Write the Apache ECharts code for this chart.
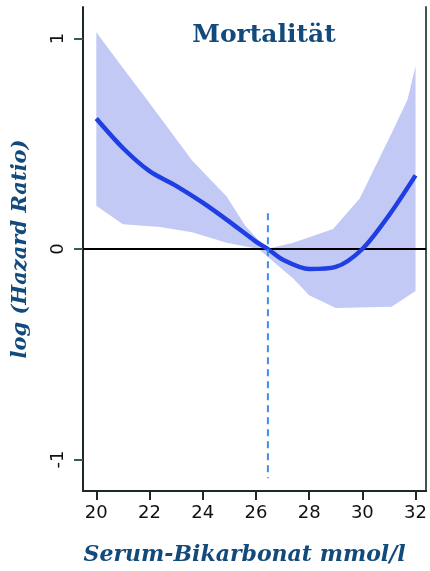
<!DOCTYPE html>
<html>
<head>
<meta charset="utf-8">
<script src="https://cdn.jsdelivr.net/npm/echarts@6/dist/echarts.min.js"></script>
<style>
  html, body { margin: 0; padding: 0; background: #fff; }
  #main { width: 430px; height: 571px; }
</style>
</head>
<body>
<div id="main"></div>
<script>
// Serum-Bikarbonat vs log(HR), spline + 95% band
var xTicks = [20, 22, 24, 26, 28, 30, 32];
var yTicks = [-1, 0, 1];

var curve = [
  [20, 0.62], [21, 0.48], [22, 0.37], [23, 0.30], [24, 0.22],
  [25, 0.13], [26, 0.035], [26.45, 0], [27, -0.05], [28, -0.095],
  [29, -0.085], [30, 0.0], [31, 0.16], [32, 0.35]
];

// upper / lower limits of the confidence band
var upper = [
  [20, 1.03], [21, 0.86], [21.9, 0.71], [23.6, 0.42], [24.9, 0.25],
  [25.6, 0.11], [26.4, 0.0], [27.4, 0.03], [28.9, 0.095], [29.9, 0.24],
  [31.1, 0.55], [31.7, 0.71], [32, 0.87]
];
var lower = [
  [20, 0.205], [21, 0.118], [22.4, 0.104], [23.6, 0.08], [24.9, 0.03],
  [26.1, 0.0], [27.4, -0.14], [28, -0.22], [29, -0.28], [31.1, -0.275],
  [32, -0.2]
];

var refX = 26.45;
var refLine = [[refX, 0.17], [refX, -1.09]];

var chart = echarts.init(document.getElementById('main'));

var bandPts = upper.concat(lower.slice().reverse());

var option = {
  backgroundColor: '#fff',
  animation: false,
  title: {
    text: 'Mortalität',
    left: 259,
    textAlign: 'center',
    top: 18,
    textStyle: {
      fontFamily: 'DejaVu Serif',
      fontWeight: 'bold',
      fontSize: 25,
      color: '#124a7c'
    }
  },
  grid: { left: 83, right: 2, top: 7, bottom: 78 },
  xAxis: {
    type: 'value',
    min: 19.5,
    max: 32.4,
    name: 'Serum-Bikarbonat mmol/l',
    nameLocation: 'middle',
    nameGap: 53,
    nameTextStyle: {
      fontFamily: 'DejaVu Serif',
      fontWeight: 'bold',
      fontStyle: 'italic',
      fontSize: 22,
      color: '#124a7c',
      padding: [0, 20, 0, 0]
    },
    splitLine: { show: false },
    axisLine: { onZero: false, lineStyle: { color: '#1c2a24', width: 2 } },
    axisTick: { length: 9, lineStyle: { color: '#1c2a24', width: 2 }, customValues: xTicks },
    axisLabel: { customValues: xTicks, fontFamily: 'DejaVu Sans', fontSize: 18, color: '#111', margin: 13 }
  },
  yAxis: [{
    type: 'value',
    min: -1.15,
    max: 1.15,
    name: 'log (Hazard Ratio)',
    nameLocation: 'middle',
    nameGap: 52,
    nameRotate: 90,
    nameTextStyle: {
      fontFamily: 'DejaVu Serif',
      fontWeight: 'bold',
      fontStyle: 'italic',
      fontSize: 21,
      color: '#124a7c'
    },
    splitLine: { show: false },
    axisLine: { onZero: false, lineStyle: { color: '#1c2a24', width: 2 } },
    axisTick: { length: 9, lineStyle: { color: '#3c5a50', width: 2 }, customValues: yTicks },
    axisLabel: { customValues: yTicks, rotate: 90, fontFamily: 'DejaVu Sans', fontSize: 18, color: '#111', margin: 16 }
  }, {
    type: 'value',
    position: 'right',
    min: -1.15,
    max: 1.15,
    splitLine: { show: false },
    axisLine: { show: true, lineStyle: { color: '#3c5a50', width: 2 } },
    axisTick: { show: false },
    axisLabel: { show: false }
  }],
  series: [
    {
      name: 'CI',
      type: 'custom',
      z: 1,
      silent: true,
      data: [0],
      renderItem: function (params, api) {
        var pts = bandPts.map(function (p) { return api.coord(p); });
        return {
          type: 'polygon',
          shape: { points: pts },
          style: { fill: '#c3c9f5' }
        };
      }
    },
    {
      name: 'logHR',
      type: 'line',
      z: 4,
      smooth: 0.3,
      showSymbol: false,
      data: curve,
      lineStyle: { color: '#1f3fe3', width: 4.5 },
      markLine: {
        silent: true,
        symbol: 'none',
        label: { show: false },
        lineStyle: { color: '#000', type: 'solid', width: 2 },
        data: [{ yAxis: 0 }],
        z: 3
      }
    },
    {
      name: 'ref',
      type: 'line',
      z: 5,
      showSymbol: false,
      data: refLine,
      lineStyle: { color: '#3b8fe8', width: 2, type: [7, 5] }
    }
  ]
};

chart.setOption(option);
</script>
</body>
</html>
